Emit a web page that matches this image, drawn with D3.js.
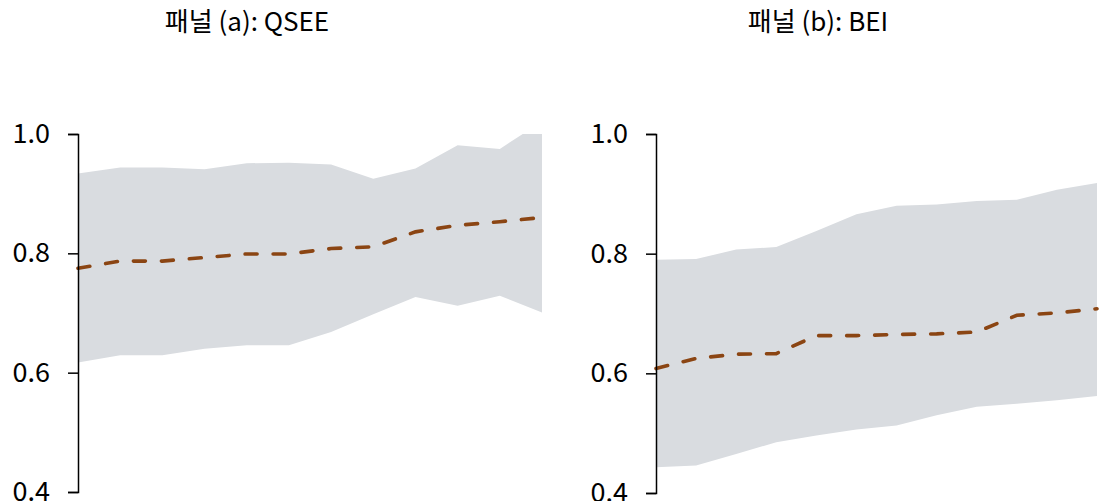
<!DOCTYPE html>
<html>
<head>
<meta charset="utf-8">
<script src="https://cdn.jsdelivr.net/npm/d3@7"></script>
<style>
  body { margin: 0; background: #fff; }
  svg { display: block; }
</style>
</head>
<body>
<svg id="chart" width="1100" height="501"></svg>
<script>
// Data (12 points per panel)
const steps = d3.range(12);

const qseeMid = [0.775, 0.787, 0.787, 0.793, 0.799, 0.799, 0.808, 0.811, 0.836, 0.847, 0.853, 0.860];
const qseeLow = [0.617, 0.629, 0.629, 0.640, 0.646, 0.646, 0.668, 0.698, 0.727, 0.712, 0.729, 0.701];
const qseeHigh = [0.934, 0.944, 0.944, 0.941, 0.951, 0.952, 0.949, 0.925, 0.942, 0.981, 0.975, 1.021];

const beiMid = [0.608, 0.625, 0.632, 0.633, 0.663, 0.663, 0.665, 0.666, 0.669, 0.697, 0.701, 0.708];
const beiLow = [0.443, 0.446, 0.465, 0.485, 0.496, 0.506, 0.513, 0.530, 0.544, 0.549, 0.555, 0.562];
const beiHigh = [0.790, 0.791, 0.807, 0.811, 0.838, 0.866, 0.880, 0.882, 0.888, 0.890, 0.907, 0.918];

const yTicks = [0.4, 0.6, 0.8, 1.0];

const panels = [
  { id: "a", title: "패널 (a): QSEE", titleX: 247, mid: qseeMid, low: qseeLow, high: qseeHigh, x0: 78, x1: 542, y0: 492, y1: 134 },
  { id: "b", title: "패널 (b): BEI", titleX: 818, mid: beiMid, low: beiLow, high: beiHigh, x0: 656, x1: 1097, y0: 493, y1: 134 }
];

const svg = d3.select("#chart");
const font = "'Noto Sans CJK KR', 'Noto Sans', sans-serif";

panels.forEach((p) => {
  const x = d3.scaleLinear().domain([0, 11]).range([p.x0, p.x1]);
  const y = d3.scaleLinear().domain([0.4, 1.0]).range([p.y0, p.y1]);

  // clip the band at the top of the axis
  svg.append("clipPath")
    .attr("id", "clip-" + p.id)
    .append("rect")
    .attr("x", p.x0)
    .attr("y", p.y1)
    .attr("width", p.x1 - p.x0)
    .attr("height", p.y0 - p.y1 + 10);

  const area = d3.area()
    .x((d) => x(d))
    .y0((d) => y(p.low[d]))
    .y1((d) => y(p.high[d]));

  svg.append("path")
    .datum(steps)
    .attr("clip-path", "url(#clip-" + p.id + ")")
    .attr("fill", "#d9dce0")
    .attr("d", area);

  const line = d3.line()
    .x((d) => x(d))
    .y((d) => y(p.mid[d]));

  svg.append("path")
    .datum(steps)
    .attr("fill", "none")
    .attr("stroke", "#8b4513")
    .attr("stroke-width", 3.6)
    .attr("stroke-linecap", "round")
    .attr("stroke-dasharray", "12,16")
    .attr("d", line);

  const axis = svg.append("g")
    .attr("transform", `translate(${p.x0},0)`)
    .call(d3.axisLeft(y)
      .tickValues(yTicks)
      .tickFormat(d3.format(".1f"))
      .tickSize(10)
      .tickSizeOuter(10)
      .tickPadding(18));

  axis.select(".domain").attr("stroke", "#000").attr("stroke-width", 1.5);
  axis.selectAll(".tick line").attr("stroke", "#000").attr("stroke-width", 1.5);
  axis.selectAll(".tick text")
    .attr("fill", "#000")
    .style("font-family", font)
    .style("font-size", "27px");

  svg.append("text")
    .attr("x", p.titleX)
    .attr("y", 31)
    .attr("text-anchor", "middle")
    .style("font-family", font)
    .style("font-size", "26px")
    .attr("fill", "#000")
    .text(p.title);
});
</script>
</body>
</html>
